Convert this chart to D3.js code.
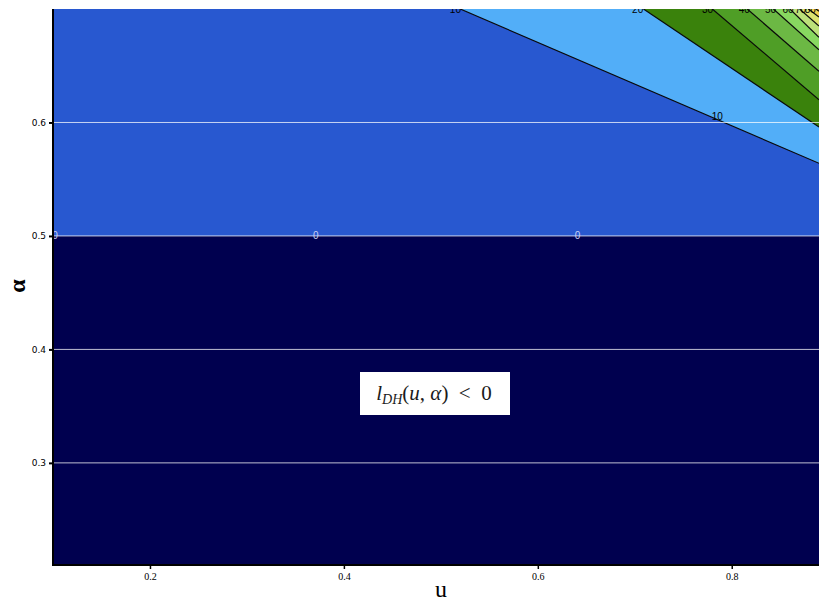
<!DOCTYPE html>
<meta charset="utf-8">
<style>
    body {
        margin: 0;
        background-color: #ffffff;
    }

    .tick-y {
        font: 9px "DejaVu Sans", sans-serif;
    }

    .tick-x {
        font: 10px "Liberation Serif", serif;
    }

    .clabel {
        font: 10px "Liberation Sans", sans-serif;
    }
</style>

<body>
    <svg width="819" height="603"></svg>
    <script src="https://cdn.jsdelivr.net/npm/d3@7"></script>
    <script>
        // ticks
        var uTicks = [0.2, 0.4, 0.6, 0.8];
        var alphaTicks = [0.3, 0.4, 0.5, 0.6];

        // contour levels, each read as a straight segment [u, alpha] -> [u, alpha]
        var levels = [0, 10, 20, 30, 40, 50, 60, 70, 80, 90];
        var contourStart = [[0.1, 0.5], [0.520, 0.7], [0.709, 0.7], [0.780, 0.7], [0.816, 0.7],
            [0.843, 0.7], [0.860, 0.7], [0.870, 0.7], [0.879, 0.7], [0.887, 0.7]];
        var contourEnd = [[0.89, 0.5], [0.89, 0.564], [0.89, 0.596], [0.89, 0.620], [0.89, 0.645],
            [0.89, 0.664], [0.89, 0.675], [0.89, 0.685], [0.89, 0.693], [0.89, 0.698]];

        // labels placed on the contours: [level, u, alpha]
        var contourLabels = [[0, 0.102, 0.5], [0, 0.371, 0.5], [0, 0.641, 0.5],
            [10, 0.515, 0.7], [10, 0.785, 0.605], [20, 0.703, 0.7], [30, 0.775, 0.7],
            [40, 0.813, 0.7], [50, 0.840, 0.7], [60, 0.858, 0.7], [70, 0.871, 0.7], [80, 0.881, 0.7]];

        var belowColor = "#00004f";
        var bandColors = ["#2858d0", "#52aef8", "#3a820c", "#4f9e26", "#6cb844",
            "#88d860", "#bce07a", "#dce270", "#f0d050", "#f0a838"];

        var uDomain = [0.1, 0.89],
            alphaDomain = [0.21, 0.7];

        var svg = d3.select("svg"),
            plot = { left: 53, right: 819, top: 9, bottom: 565 };

        var x = d3.scaleLinear().domain(uDomain).range([plot.left, plot.right]),
            y = d3.scaleLinear().domain(alphaDomain).range([plot.bottom, plot.top]);

        svg.append("clipPath").attr("id", "plotclip")
            .append("rect")
            .attr("x", plot.left).attr("y", plot.top)
            .attr("width", plot.right - plot.left).attr("height", plot.bottom - plot.top);

        var g = svg.append("g").attr("clip-path", "url(#plotclip)");

        g.append("rect")
            .attr("x", plot.left).attr("y", plot.top)
            .attr("width", plot.right - plot.left).attr("height", plot.bottom - plot.top)
            .attr("fill", belowColor);

        var line = d3.line()
            .x(function (d) { return x(d[0]); })
            .y(function (d) { return y(d[1]); });

        // region above each contour, painted low to high
        levels.forEach(function (lv, i) {
            var pts = [contourStart[i], contourEnd[i], [uDomain[1], alphaDomain[1]]];
            if (contourStart[i][0] === uDomain[0]) pts.push([uDomain[0], alphaDomain[1]]);
            g.append("path")
                .attr("d", line(pts) + "Z")
                .attr("fill", bandColors[i]);
        });

        levels.forEach(function (lv, i) {
            if (lv === 0) return;
            g.append("path")
                .attr("d", line([contourStart[i], contourEnd[i]]))
                .attr("fill", "none")
                .attr("stroke", "#0a0a0a")
                .attr("stroke-width", 1.2);
        });

        // horizontal grid
        g.selectAll(".grid")
            .data(alphaTicks)
            .enter().append("line")
            .attr("x1", plot.left).attr("x2", plot.right)
            .attr("y1", function (d) { return y(d); })
            .attr("y2", function (d) { return y(d); })
            .attr("stroke", "#ffffff")
            .attr("stroke-opacity", 0.75)
            .attr("stroke-width", 1);

        g.selectAll(".clabel")
            .data(contourLabels)
            .enter().append("text")
            .attr("class", "clabel")
            .attr("x", function (d) { return x(d[1]); })
            .attr("y", function (d) { return y(d[2]); })
            .attr("text-anchor", "middle")
            .attr("dominant-baseline", "central")
            .attr("fill", function (d) { return d[0] === 0 ? "#c8d0f4" : "#000000"; })
            .text(function (d) { return d[0]; });

        // axes
        var yAxis = svg.append("g")
            .attr("transform", "translate(" + plot.left + ",0)")
            .call(d3.axisLeft(y).tickValues(alphaTicks).tickSize(4).tickPadding(3).tickFormat(d3.format(".1f")));
        yAxis.selectAll("text").attr("class", "tick-y").attr("fill", "#000");
        yAxis.selectAll(".tick line").attr("stroke", "#000").attr("stroke-width", 2);
        yAxis.select(".domain").remove();

        var xAxis = svg.append("g")
            .attr("transform", "translate(0," + plot.bottom + ")")
            .call(d3.axisBottom(x).tickValues(uTicks).tickSize(4).tickPadding(4).tickFormat(d3.format(".1f")));
        xAxis.selectAll("text").attr("class", "tick-x").attr("fill", "#000");
        xAxis.selectAll(".tick line").attr("stroke", "#000").attr("stroke-width", 1.5);
        xAxis.select(".domain").remove();

        svg.append("line")
            .attr("x1", plot.left).attr("x2", plot.left).attr("y1", plot.top).attr("y2", plot.bottom + 1)
            .attr("stroke", "#000").attr("stroke-width", 2);
        svg.append("line")
            .attr("x1", plot.left - 1).attr("x2", plot.right).attr("y1", plot.bottom).attr("y2", plot.bottom)
            .attr("stroke", "#000").attr("stroke-width", 2);

        svg.append("text")
            .attr("x", 441).attr("y", 597)
            .attr("text-anchor", "middle")
            .style("font", "24px 'Liberation Serif', serif")
            .text("u");

        svg.append("text")
            .attr("transform", "translate(25,286) rotate(-90)")
            .attr("text-anchor", "middle")
            .style("font", "bold 24px 'Liberation Serif', serif")
            .text("α");

        // annotation
        svg.append("rect")
            .attr("x", 360).attr("y", 372)
            .attr("width", 150).attr("height", 43)
            .attr("fill", "#ffffff");

        var note = svg.append("text")
            .attr("x", 434).attr("y", 400)
            .attr("text-anchor", "middle")
            .style("font", "21px 'Liberation Serif', serif")
            .attr("fill", "#1a1a1a");
        note.append("tspan").style("font-style", "italic").text("l");
        note.append("tspan").style("font-style", "italic").style("font-size", "14px").attr("dy", 4).text("DH");
        note.append("tspan").attr("dy", -4).text("(");
        note.append("tspan").style("font-style", "italic").text("u");
        note.append("tspan").text(", ");
        note.append("tspan").style("font-style", "italic").text("α");
        note.append("tspan").text(")\u2002<\u20020");
    </script>
</body>
